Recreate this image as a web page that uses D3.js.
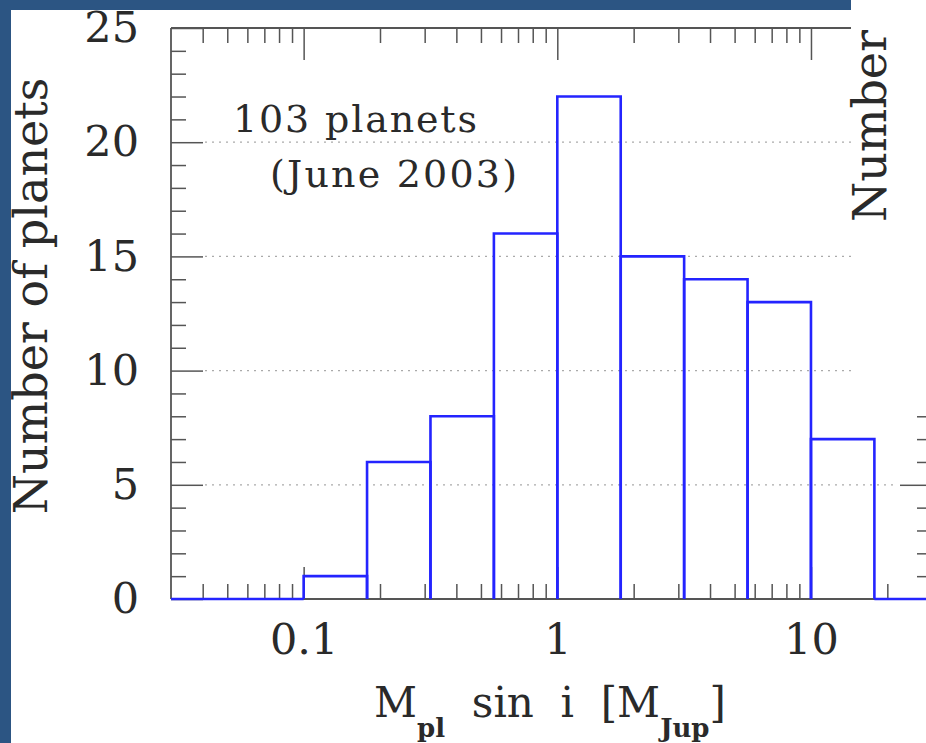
<!DOCTYPE html>
<html>
<head>
<meta charset="utf-8">
<script src="https://cdn.jsdelivr.net/npm/d3@7"></script>
<style>
  body { margin: 0; background: #fff; }
  svg { display: block; }
  text { font-family: "DejaVu Serif", serif; fill: #2a2a2a; }
</style>
</head>
<body>
<div id="chart"></div>
<script>
// bin edges given as log10(M sin i), counts per bin
const binEdges = [-1.5, -1.25, -1, -0.75, -0.5, -0.25, 0, 0.25, 0.5, 0.75, 1, 1.25, 1.5];
const counts   = [0, 0, 1, 6, 8, 16, 22, 15, 14, 13, 7, 0];
const xDomain = [0.03, 30];
const xMajor = [0.1, 1, 10];
const xMajorLabels = ["0.1", "1", "10"];
const yMajor = [0, 5, 10, 15, 20, 25];
const yMinor = [1, 2, 3, 4, 6, 7, 8, 9, 11, 12, 13, 14, 16, 17, 18, 19, 21, 22, 23, 24];
const gridVals = [5, 10, 15, 20];
const rightTickVals = [1, 2, 3, 4, 5, 6, 7, 8]; // the rest hidden behind the overlapping panel

const W = 926, H = 743;
const margin = { top: 28, left: 171 },
      width = 761,
      height = 571;

const svg = d3.select("#chart")
  .append("svg")
  .attr("width", W)
  .attr("height", H);

const g = svg.append("g")
  .attr("transform", `translate(${margin.left},${margin.top})`);

const x = d3.scaleLog()
  .domain(xDomain)
  .range([0, width]);

const y = d3.scaleLinear()
  .domain([0, 25])
  .range([height, 0]);

const axisColor = "#555";
const majorLen = 32, minorLen = 15;

// grid
g.selectAll("line.grid")
  .data(gridVals)
  .join("line")
  .attr("class", "grid")
  .attr("x1", majorLen + 2)
  .attr("x2", width - majorLen - 2)
  .attr("y1", d => y(d))
  .attr("y2", d => y(d))
  .attr("stroke", "#aaa")
  .attr("stroke-width", 1.2)
  .attr("stroke-dasharray", "2,5");

// minor x ticks (2..9 of each decade)
const xMinor = x.ticks().filter(v => xMajor.indexOf(v) < 0 && v > xDomain[0] && v < xDomain[1]);

function styleAxis(sel) {
  sel.select(".domain").remove();
  sel.selectAll("line").attr("stroke", axisColor).attr("stroke-width", 1.5);
  sel.selectAll("text")
    .style("font-family", "DejaVu Serif, serif")
    .style("font-size", "43px")
    .attr("fill", "#2a2a2a");
}

// bottom
g.append("g").attr("transform", `translate(0,${height})`)
  .call(d3.axisBottom(x).tickValues(xMinor).tickSize(-minorLen).tickFormat(""))
  .call(styleAxis);
g.append("g").attr("transform", `translate(0,${height})`)
  .call(d3.axisBottom(x).tickValues(xMajor).tickSize(-majorLen).tickPadding(24)
    .tickFormat((d, i) => xMajorLabels[i]))
  .call(styleAxis);

// top
g.append("g")
  .call(d3.axisTop(x).tickValues(xMinor).tickSize(-minorLen).tickFormat(""))
  .call(styleAxis);
g.append("g")
  .call(d3.axisTop(x).tickValues(xMajor).tickSize(-majorLen).tickFormat(""))
  .call(styleAxis);

// left
g.append("g")
  .call(d3.axisLeft(y).tickValues(yMinor).tickSize(-minorLen).tickFormat(""))
  .call(styleAxis);
g.append("g")
  .call(d3.axisLeft(y).tickValues(yMajor).tickSize(-majorLen).tickPadding(32))
  .call(styleAxis);

// right
g.append("g").attr("transform", `translate(${width},0)`)
  .call(d3.axisRight(y).tickValues(rightTickVals.filter(v => v % 5)).tickSize(-minorLen).tickFormat(""))
  .call(styleAxis);
g.append("g").attr("transform", `translate(${width},0)`)
  .call(d3.axisRight(y).tickValues(rightTickVals.filter(v => v % 5 === 0)).tickSize(-majorLen).tickFormat(""))
  .call(styleAxis);

// frame
g.append("line").attr("x1", 0).attr("x2", width).attr("y1", 0).attr("y2", 0)
  .attr("stroke", axisColor).attr("stroke-width", 1.8);
g.append("line").attr("x1", 0).attr("x2", width).attr("y1", height).attr("y2", height)
  .attr("stroke", axisColor).attr("stroke-width", 1.8);
g.append("line").attr("x1", 0).attr("x2", 0).attr("y1", 0).attr("y2", height)
  .attr("stroke", axisColor).attr("stroke-width", 1.8);

// histogram
const bins = counts.map((c, i) => ({
  lo: i === 0 ? xDomain[0] : Math.pow(10, binEdges[i]),
  hi: Math.pow(10, binEdges[i + 1]),
  c: c
}));

g.selectAll("path.bar")
  .data(bins)
  .join("path")
  .attr("class", "bar")
  .attr("d", d => d.c > 0
    ? `M${x(d.lo)},${y(0)}V${y(d.c)}H${x(d.hi)}V${y(0)}`
    : `M${x(d.lo)},${y(0)}H${x(d.hi)}`)
  .attr("fill", "none")
  .attr("stroke", "#2424ff")
  .attr("stroke-width", 2.6);

// annotation
g.append("text")
  .attr("x", 233 - margin.left)
  .attr("y", 132 - margin.top)
  .style("font-size", "38px")
  .attr("textLength", 244)
  .attr("lengthAdjust", "spacing")
  .text("103 planets");
g.append("text")
  .attr("x", 270 - margin.left)
  .attr("y", 187 - margin.top)
  .style("font-size", "38px")
  .attr("textLength", 247)
  .attr("lengthAdjust", "spacing")
  .text("(June 2003)");

// y label
svg.append("text")
  .attr("transform", `translate(47,${296}) rotate(-90)`)
  .attr("text-anchor", "middle")
  .style("font-size", "46px")
  .text("Number of planets");

// x label
const xl = svg.append("text")
  .attr("x", 550)
  .attr("y", 717)
  .attr("text-anchor", "middle")
  .style("font-size", "42px");
xl.append("tspan").text("M");
xl.append("tspan").attr("dy", 20).style("font-size", "26px").style("font-weight", "bold").text("pl");
xl.append("tspan").attr("dy", -20).text("\u00a0\u00a0sin\u00a0\u00a0i\u00a0\u00a0[M");
xl.append("tspan").attr("dy", 20).style("font-size", "26px").style("font-weight", "bold").text("Jup");
xl.append("tspan").attr("dy", -20).text("]");

// overlapping neighbour panel in the top right corner
svg.append("rect")
  .attr("x", 851).attr("y", 0)
  .attr("width", W - 851).attr("height", 405)
  .attr("fill", "#fff");
svg.append("text")
  .attr("transform", `translate(886,${126}) rotate(-90)`)
  .attr("text-anchor", "middle")
  .style("font-size", "46px")
  .text("Number");

// slide background strips
svg.append("rect").attr("x", 0).attr("y", 0).attr("width", 851).attr("height", 10).attr("fill", "#2c5583");
svg.append("rect").attr("x", 0).attr("y", 0).attr("width", 11).attr("height", H).attr("fill", "#2c5583");
</script>
</body>
</html>
